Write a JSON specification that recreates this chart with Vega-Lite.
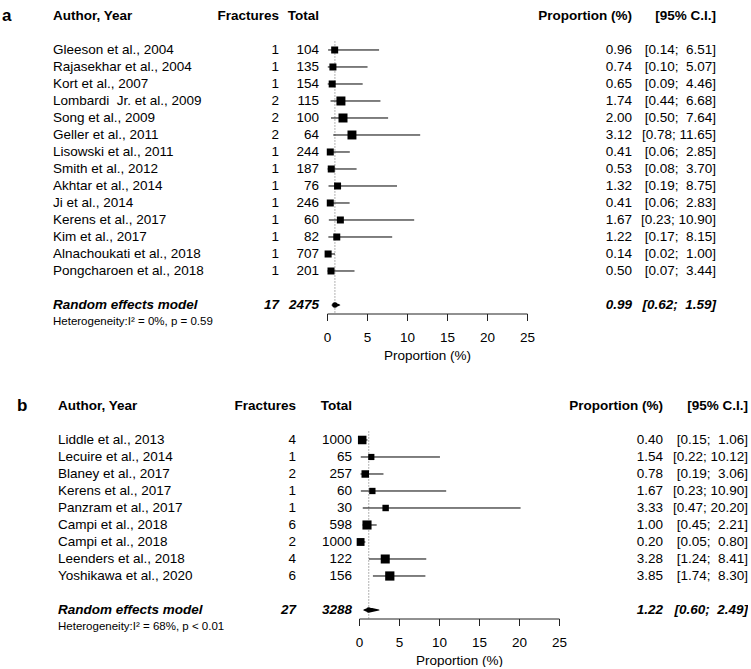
{
  "$schema": "https://vega.github.io/schema/vega-lite/v6.json",
  "padding": 0,
  "autosize": {"type": "pad"},
  "background": "white",
  "config": {
    "view": {"stroke": null},
    "font": "Liberation Sans",
    "text": {"font": "Liberation Sans", "fontSize": 13.5, "color": "black", "baseline": "middle"},
    "axisX": {
      "grid": false, "domainColor": "#222", "tickColor": "#222", "tickSize": 7, "domainWidth": 1, "tickWidth": 1,
      "labelFont": "Liberation Sans", "labelFontSize": 13.5, "labelColor": "black", "labelPadding": 10, "labelFlush": false,
      "titleFont": "Liberation Sans", "titleFontSize": 13.5, "titleFontWeight": "normal", "titleColor": "black", "titlePadding": 4
    }
  },
  "datasets": {
    "studiesA": [
      {"row": 1, "author": "Gleeson et al., 2004", "fractures": 1, "total": 104, "prop": 0.96, "lower": 0.14, "upper": 6.51, "ci": "[0.14;\u00a0 6.51]", "weight": 5.9},
      {"row": 2, "author": "Rajasekhar et al., 2004", "fractures": 1, "total": 135, "prop": 0.74, "lower": 0.10, "upper": 5.07, "ci": "[0.10;\u00a0 5.07]", "weight": 5.9},
      {"row": 3, "author": "Kort et al., 2007", "fractures": 1, "total": 154, "prop": 0.65, "lower": 0.09, "upper": 4.46, "ci": "[0.09;\u00a0 4.46]", "weight": 5.9},
      {"row": 4, "author": "Lombardi\u00a0 Jr. et al., 2009", "fractures": 2, "total": 115, "prop": 1.74, "lower": 0.44, "upper": 6.68, "ci": "[0.44;\u00a0 6.68]", "weight": 11.7},
      {"row": 5, "author": "Song et al., 2009", "fractures": 2, "total": 100, "prop": 2.00, "lower": 0.50, "upper": 7.64, "ci": "[0.50;\u00a0 7.64]", "weight": 11.7},
      {"row": 6, "author": "Geller et al., 2011", "fractures": 2, "total": 64, "prop": 3.12, "lower": 0.78, "upper": 11.65, "ci": "[0.78; 11.65]", "weight": 11.5},
      {"row": 7, "author": "Lisowski et al., 2011", "fractures": 1, "total": 244, "prop": 0.41, "lower": 0.06, "upper": 2.85, "ci": "[0.06;\u00a0 2.85]", "weight": 5.9},
      {"row": 8, "author": "Smith et al., 2012", "fractures": 1, "total": 187, "prop": 0.53, "lower": 0.08, "upper": 3.70, "ci": "[0.08;\u00a0 3.70]", "weight": 5.9},
      {"row": 9, "author": "Akhtar et al., 2014", "fractures": 1, "total": 76, "prop": 1.32, "lower": 0.19, "upper": 8.75, "ci": "[0.19;\u00a0 8.75]", "weight": 5.9},
      {"row": 10, "author": "Ji et al., 2014", "fractures": 1, "total": 246, "prop": 0.41, "lower": 0.06, "upper": 2.83, "ci": "[0.06;\u00a0 2.83]", "weight": 5.9},
      {"row": 11, "author": "Kerens et al., 2017", "fractures": 1, "total": 60, "prop": 1.67, "lower": 0.23, "upper": 10.90, "ci": "[0.23; 10.90]", "weight": 5.9},
      {"row": 12, "author": "Kim et al., 2017", "fractures": 1, "total": 82, "prop": 1.22, "lower": 0.17, "upper": 8.15, "ci": "[0.17;\u00a0 8.15]", "weight": 5.9},
      {"row": 13, "author": "Alnachoukati et al., 2018", "fractures": 1, "total": 707, "prop": 0.14, "lower": 0.02, "upper": 1.00, "ci": "[0.02;\u00a0 1.00]", "weight": 6.0},
      {"row": 14, "author": "Pongcharoen et al., 2018", "fractures": 1, "total": 201, "prop": 0.50, "lower": 0.07, "upper": 3.44, "ci": "[0.07;\u00a0 3.44]", "weight": 5.9}
    ],
    "summaryA": [
      {"label": "Random effects model", "fractures": 17, "total": 2475, "prop": 0.99, "lower": 0.62, "upper": 1.59, "ci": "[0.62;\u00a0 1.59]", "het": "Heterogeneity:I\u00b2 = 0%, p = 0.59"}
    ],
    "studiesB": [
      {"row": 1, "author": "Liddle et al., 2013", "fractures": 4, "total": 1000, "prop": 0.40, "lower": 0.15, "upper": 1.06, "ci": "[0.15;\u00a0 1.06]", "weight": 13.0},
      {"row": 2, "author": "Lecuire et al., 2014", "fractures": 1, "total": 65, "prop": 1.54, "lower": 0.22, "upper": 10.12, "ci": "[0.22; 10.12]", "weight": 6.8},
      {"row": 3, "author": "Blaney et al., 2017", "fractures": 2, "total": 257, "prop": 0.78, "lower": 0.19, "upper": 3.06, "ci": "[0.19;\u00a0 3.06]", "weight": 10.0},
      {"row": 4, "author": "Kerens et al., 2017", "fractures": 1, "total": 60, "prop": 1.67, "lower": 0.23, "upper": 10.90, "ci": "[0.23; 10.90]", "weight": 7.1},
      {"row": 5, "author": "Panzram et al., 2017", "fractures": 1, "total": 30, "prop": 3.33, "lower": 0.47, "upper": 20.20, "ci": "[0.47; 20.20]", "weight": 7.4},
      {"row": 6, "author": "Campi et al., 2018", "fractures": 6, "total": 598, "prop": 1.00, "lower": 0.45, "upper": 2.21, "ci": "[0.45;\u00a0 2.21]", "weight": 14.8},
      {"row": 7, "author": "Campi et al., 2018", "fractures": 2, "total": 1000, "prop": 0.20, "lower": 0.05, "upper": 0.80, "ci": "[0.05;\u00a0 0.80]", "weight": 11.0},
      {"row": 8, "author": "Leenders et al., 2018", "fractures": 4, "total": 122, "prop": 3.28, "lower": 1.24, "upper": 8.41, "ci": "[1.24;\u00a0 8.41]", "weight": 14.5},
      {"row": 9, "author": "Yoshikawa et al., 2020", "fractures": 6, "total": 156, "prop": 3.85, "lower": 1.74, "upper": 8.30, "ci": "[1.74;\u00a0 8.30]", "weight": 15.2}
    ],
    "summaryB": [
      {"label": "Random effects model", "fractures": 27, "total": 3288, "prop": 1.22, "lower": 0.60, "upper": 2.49, "ci": "[0.60;\u00a0 2.49]", "het": "Heterogeneity:I\u00b2 = 68%, p < 0.01"}
    ]
  },
  "bounds": "full",
  "spacing": 28,
  "resolve": {"scale": {"size": "independent", "x": "independent", "y": "independent"}},
  "vconcat": [
    {
      "bounds": "flush",
      "spacing": 0,
      "resolve": {"scale": {"size": "independent", "x": "independent", "y": "independent"}},
      "hconcat": [
        {
          "width": 53, "height": 313.5,
          "data": {"values": [{}]},
          "mark": {"type": "text", "align": "left", "fontWeight": "bold", "fontSize": 17, "dx": 2},
          "encoding": {
            "x": {"value": 0},
            "y": {"datum": -1, "type": "quantitative", "scale": {"domain": [-1.94, 16.5], "reverse": true, "nice": false, "zero": false}, "axis": null},
            "text": {"value": "a"}
          }
        },
        {
          "width": 226, "height": 313.5,
          "layer": [
            {"data": {"values": [{}]}, "mark": {"type": "text", "align": "left", "fontWeight": "bold"},
             "encoding": {"x": {"value": 0}, "y": {"datum": -1, "type": "quantitative", "scale": {"domain": [-1.94, 16.5], "reverse": true, "nice": false, "zero": false}, "axis": null}, "text": {"value": "Author, Year"}}},
            {"data": {"values": [{}]}, "mark": {"type": "text", "align": "right", "fontWeight": "bold"},
             "encoding": {"x": {"value": "width"}, "y": {"datum": -1, "type": "quantitative", "axis": null}, "text": {"value": "Fractures"}}},
            {"data": {"name": "studiesA"}, "mark": {"type": "text", "align": "left"},
             "encoding": {"x": {"value": 0}, "y": {"field": "row", "type": "quantitative", "axis": null}, "text": {"field": "author", "type": "nominal"}}},
            {"data": {"name": "studiesA"}, "mark": {"type": "text", "align": "right"},
             "encoding": {"x": {"value": "width"}, "y": {"field": "row", "type": "quantitative", "axis": null}, "text": {"field": "fractures", "type": "nominal"}}},
            {"data": {"name": "summaryA"}, "mark": {"type": "text", "align": "left", "fontWeight": "bold", "fontStyle": "italic"},
             "encoding": {"x": {"value": 0}, "y": {"datum": 16, "type": "quantitative", "axis": null}, "text": {"field": "label", "type": "nominal"}}},
            {"data": {"name": "summaryA"}, "mark": {"type": "text", "align": "right", "fontWeight": "bold", "fontStyle": "italic"},
             "encoding": {"x": {"value": "width"}, "y": {"datum": 16, "type": "quantitative", "axis": null}, "text": {"field": "fractures", "type": "nominal"}}},
            {"data": {"name": "summaryA"}, "mark": {"type": "text", "align": "left", "fontSize": 11.5},
             "encoding": {"x": {"value": 0}, "y": {"datum": 17, "type": "quantitative", "axis": null}, "text": {"field": "het", "type": "nominal"}}}
          ]
        },
        {
          "width": 48, "height": 313.5,
          "layer": [
            {"data": {"values": [{}]}, "mark": {"type": "text", "align": "right", "fontWeight": "bold", "dx": -8},
             "encoding": {"x": {"value": "width"}, "y": {"datum": -1, "type": "quantitative", "scale": {"domain": [-1.94, 16.5], "reverse": true, "nice": false, "zero": false}, "axis": null}, "text": {"value": "Total"}}},
            {"data": {"name": "studiesA"}, "mark": {"type": "text", "align": "right", "dx": -8},
             "encoding": {"x": {"value": "width"}, "y": {"field": "row", "type": "quantitative", "axis": null}, "text": {"field": "total", "type": "nominal"}}},
            {"data": {"name": "summaryA"}, "mark": {"type": "text", "align": "right", "fontWeight": "bold", "fontStyle": "italic", "dx": -8},
             "encoding": {"x": {"value": "width"}, "y": {"datum": 16, "type": "quantitative", "axis": null}, "text": {"field": "total", "type": "nominal"}}}
          ]
        },
        {
          "width": 200, "height": 313.5,
          "resolve": {"scale": {"size": "independent"}},
          "layer": [
            {"data": {"name": "summaryA"}, "mark": {"type": "rule", "color": "#666", "strokeDash": [1, 2], "strokeWidth": 1},
             "encoding": {
               "x": {"field": "prop", "type": "quantitative", "scale": {"domain": [0, 25], "nice": false}, "title": "Proportion (%)"},
               "y": {"datum": 0.5, "type": "quantitative", "scale": {"domain": [-1.94, 16.5], "reverse": true, "nice": false, "zero": false}, "axis": null},
               "y2": {"datum": 16.5}
             }},
            {"data": {"name": "studiesA"}, "mark": {"type": "rule", "color": "black", "strokeWidth": 1},
             "encoding": {
               "x": {"field": "lower", "type": "quantitative", "title": "Proportion (%)"},
               "x2": {"field": "upper"},
               "y": {"field": "row", "type": "quantitative", "axis": null}
             }},
            {"data": {"name": "studiesA"}, "mark": {"type": "point", "shape": "square", "filled": true, "color": "black", "opacity": 1},
             "encoding": {
               "x": {"field": "prop", "type": "quantitative", "title": "Proportion (%)"},
               "y": {"field": "row", "type": "quantitative", "axis": null},
               "size": {"field": "weight", "type": "quantitative", "scale": {"domain": [5.9, 11.7], "range": [49, 81], "zero": false}, "legend": null}
             }},
            {"data": {"name": "summaryA"}, "transform": [{"fold": ["lower", "prop", "upper"]}],
             "mark": {"type": "trail", "color": "black"},
             "encoding": {
               "x": {"field": "value", "type": "quantitative", "title": "Proportion (%)"},
               "y": {"datum": 16, "type": "quantitative", "axis": null},
               "size": {"field": "key", "type": "ordinal", "scale": {"type": "ordinal", "domain": ["lower", "prop", "upper"], "range": [0, 5.5, 0]}, "legend": null}
             }}
          ]
        },
        {
          "width": 105, "height": 313.5,
          "layer": [
            {"data": {"values": [{}]}, "mark": {"type": "text", "align": "right", "fontWeight": "bold"},
             "encoding": {"x": {"value": "width"}, "y": {"datum": -1, "type": "quantitative", "scale": {"domain": [-1.94, 16.5], "reverse": true, "nice": false, "zero": false}, "axis": null}, "text": {"value": "Proportion (%)"}}},
            {"data": {"name": "studiesA"}, "mark": {"type": "text", "align": "right"},
             "encoding": {"x": {"value": "width"}, "y": {"field": "row", "type": "quantitative", "axis": null}, "text": {"field": "prop", "type": "quantitative", "format": ".2f"}}},
            {"data": {"name": "summaryA"}, "mark": {"type": "text", "align": "right", "fontWeight": "bold", "fontStyle": "italic"},
             "encoding": {"x": {"value": "width"}, "y": {"datum": 16, "type": "quantitative", "axis": null}, "text": {"field": "prop", "type": "quantitative", "format": ".2f"}}}
          ]
        },
        {
          "width": 84, "height": 313.5,
          "layer": [
            {"data": {"values": [{}]}, "mark": {"type": "text", "align": "right", "fontWeight": "bold"},
             "encoding": {"x": {"value": "width"}, "y": {"datum": -1, "type": "quantitative", "scale": {"domain": [-1.94, 16.5], "reverse": true, "nice": false, "zero": false}, "axis": null}, "text": {"value": "[95% C.I.]"}}},
            {"data": {"name": "studiesA"}, "mark": {"type": "text", "align": "right"},
             "encoding": {"x": {"value": "width"}, "y": {"field": "row", "type": "quantitative", "axis": null}, "text": {"field": "ci", "type": "nominal"}}},
            {"data": {"name": "summaryA"}, "mark": {"type": "text", "align": "right", "fontWeight": "bold", "fontStyle": "italic"},
             "encoding": {"x": {"value": "width"}, "y": {"datum": 16, "type": "quantitative", "axis": null}, "text": {"field": "ci", "type": "nominal"}}}
          ]
        }
      ]
    },
    {
      "bounds": "flush",
      "spacing": 0,
      "resolve": {"scale": {"size": "independent", "x": "independent", "y": "independent"}},
      "hconcat": [
        {
          "width": 58, "height": 228.5,
          "data": {"values": [{}]},
          "mark": {"type": "text", "align": "left", "fontWeight": "bold", "fontSize": 17, "dx": 17},
          "encoding": {
            "x": {"value": 0},
            "y": {"datum": -1, "type": "quantitative", "scale": {"domain": [-1.94, 11.5], "reverse": true, "nice": false, "zero": false}, "axis": null},
            "text": {"value": "b"}
          }
        },
        {
          "width": 238, "height": 228.5,
          "layer": [
            {"data": {"values": [{}]}, "mark": {"type": "text", "align": "left", "fontWeight": "bold"},
             "encoding": {"x": {"value": 0}, "y": {"datum": -1, "type": "quantitative", "scale": {"domain": [-1.94, 11.5], "reverse": true, "nice": false, "zero": false}, "axis": null}, "text": {"value": "Author, Year"}}},
            {"data": {"values": [{}]}, "mark": {"type": "text", "align": "right", "fontWeight": "bold"},
             "encoding": {"x": {"value": "width"}, "y": {"datum": -1, "type": "quantitative", "axis": null}, "text": {"value": "Fractures"}}},
            {"data": {"name": "studiesB"}, "mark": {"type": "text", "align": "left"},
             "encoding": {"x": {"value": 0}, "y": {"field": "row", "type": "quantitative", "axis": null}, "text": {"field": "author", "type": "nominal"}}},
            {"data": {"name": "studiesB"}, "mark": {"type": "text", "align": "right"},
             "encoding": {"x": {"value": "width"}, "y": {"field": "row", "type": "quantitative", "axis": null}, "text": {"field": "fractures", "type": "nominal"}}},
            {"data": {"name": "summaryB"}, "mark": {"type": "text", "align": "left", "fontWeight": "bold", "fontStyle": "italic"},
             "encoding": {"x": {"value": 0}, "y": {"datum": 11, "type": "quantitative", "axis": null}, "text": {"field": "label", "type": "nominal"}}},
            {"data": {"name": "summaryB"}, "mark": {"type": "text", "align": "right", "fontWeight": "bold", "fontStyle": "italic"},
             "encoding": {"x": {"value": "width"}, "y": {"datum": 11, "type": "quantitative", "axis": null}, "text": {"field": "fractures", "type": "nominal"}}},
            {"data": {"name": "summaryB"}, "mark": {"type": "text", "align": "left", "fontSize": 11.5},
             "encoding": {"x": {"value": 0}, "y": {"datum": 12, "type": "quantitative", "axis": null}, "text": {"field": "het", "type": "nominal"}}}
          ]
        },
        {
          "width": 63, "height": 228.5,
          "layer": [
            {"data": {"values": [{}]}, "mark": {"type": "text", "align": "right", "fontWeight": "bold", "dx": -7},
             "encoding": {"x": {"value": "width"}, "y": {"datum": -1, "type": "quantitative", "scale": {"domain": [-1.94, 11.5], "reverse": true, "nice": false, "zero": false}, "axis": null}, "text": {"value": "Total"}}},
            {"data": {"name": "studiesB"}, "mark": {"type": "text", "align": "right", "dx": -7},
             "encoding": {"x": {"value": "width"}, "y": {"field": "row", "type": "quantitative", "axis": null}, "text": {"field": "total", "type": "nominal"}}},
            {"data": {"name": "summaryB"}, "mark": {"type": "text", "align": "right", "fontWeight": "bold", "fontStyle": "italic", "dx": -7},
             "encoding": {"x": {"value": "width"}, "y": {"datum": 11, "type": "quantitative", "axis": null}, "text": {"field": "total", "type": "nominal"}}}
          ]
        },
        {
          "width": 200, "height": 228.5,
          "resolve": {"scale": {"size": "independent"}},
          "layer": [
            {"data": {"name": "summaryB"}, "mark": {"type": "rule", "color": "#666", "strokeDash": [1, 2], "strokeWidth": 1},
             "encoding": {
               "x": {"field": "prop", "type": "quantitative", "scale": {"domain": [0, 25], "nice": false}, "title": "Proportion (%)"},
               "y": {"datum": 0.5, "type": "quantitative", "scale": {"domain": [-1.94, 11.5], "reverse": true, "nice": false, "zero": false}, "axis": null},
               "y2": {"datum": 11.5}
             }},
            {"data": {"name": "studiesB"}, "mark": {"type": "rule", "color": "black", "strokeWidth": 1},
             "encoding": {
               "x": {"field": "lower", "type": "quantitative", "title": "Proportion (%)"},
               "x2": {"field": "upper"},
               "y": {"field": "row", "type": "quantitative", "axis": null}
             }},
            {"data": {"name": "studiesB"}, "mark": {"type": "point", "shape": "square", "filled": true, "color": "black", "opacity": 1},
             "encoding": {
               "x": {"field": "prop", "type": "quantitative", "title": "Proportion (%)"},
               "y": {"field": "row", "type": "quantitative", "axis": null},
               "size": {"field": "weight", "type": "quantitative", "scale": {"domain": [0, 20], "range": [0, 112]}, "legend": null}
             }},
            {"data": {"name": "summaryB"}, "transform": [{"fold": ["lower", "prop", "upper"]}],
             "mark": {"type": "trail", "color": "black"},
             "encoding": {
               "x": {"field": "value", "type": "quantitative", "title": "Proportion (%)"},
               "y": {"datum": 11, "type": "quantitative", "axis": null},
               "size": {"field": "key", "type": "ordinal", "scale": {"type": "ordinal", "domain": ["lower", "prop", "upper"], "range": [0, 5.5, 0]}, "legend": null}
             }}
          ]
        },
        {
          "width": 104, "height": 228.5,
          "layer": [
            {"data": {"values": [{}]}, "mark": {"type": "text", "align": "right", "fontWeight": "bold"},
             "encoding": {"x": {"value": "width"}, "y": {"datum": -1, "type": "quantitative", "scale": {"domain": [-1.94, 11.5], "reverse": true, "nice": false, "zero": false}, "axis": null}, "text": {"value": "Proportion (%)"}}},
            {"data": {"name": "studiesB"}, "mark": {"type": "text", "align": "right"},
             "encoding": {"x": {"value": "width"}, "y": {"field": "row", "type": "quantitative", "axis": null}, "text": {"field": "prop", "type": "quantitative", "format": ".2f"}}},
            {"data": {"name": "summaryB"}, "mark": {"type": "text", "align": "right", "fontWeight": "bold", "fontStyle": "italic"},
             "encoding": {"x": {"value": "width"}, "y": {"datum": 11, "type": "quantitative", "axis": null}, "text": {"field": "prop", "type": "quantitative", "format": ".2f"}}}
          ]
        },
        {
          "width": 85, "height": 228.5,
          "layer": [
            {"data": {"values": [{}]}, "mark": {"type": "text", "align": "right", "fontWeight": "bold"},
             "encoding": {"x": {"value": "width"}, "y": {"datum": -1, "type": "quantitative", "scale": {"domain": [-1.94, 11.5], "reverse": true, "nice": false, "zero": false}, "axis": null}, "text": {"value": "[95% C.I.]"}}},
            {"data": {"name": "studiesB"}, "mark": {"type": "text", "align": "right"},
             "encoding": {"x": {"value": "width"}, "y": {"field": "row", "type": "quantitative", "axis": null}, "text": {"field": "ci", "type": "nominal"}}},
            {"data": {"name": "summaryB"}, "mark": {"type": "text", "align": "right", "fontWeight": "bold", "fontStyle": "italic"},
             "encoding": {"x": {"value": "width"}, "y": {"datum": 11, "type": "quantitative", "axis": null}, "text": {"field": "ci", "type": "nominal"}}}
          ]
        }
      ]
    }
  ]
}
